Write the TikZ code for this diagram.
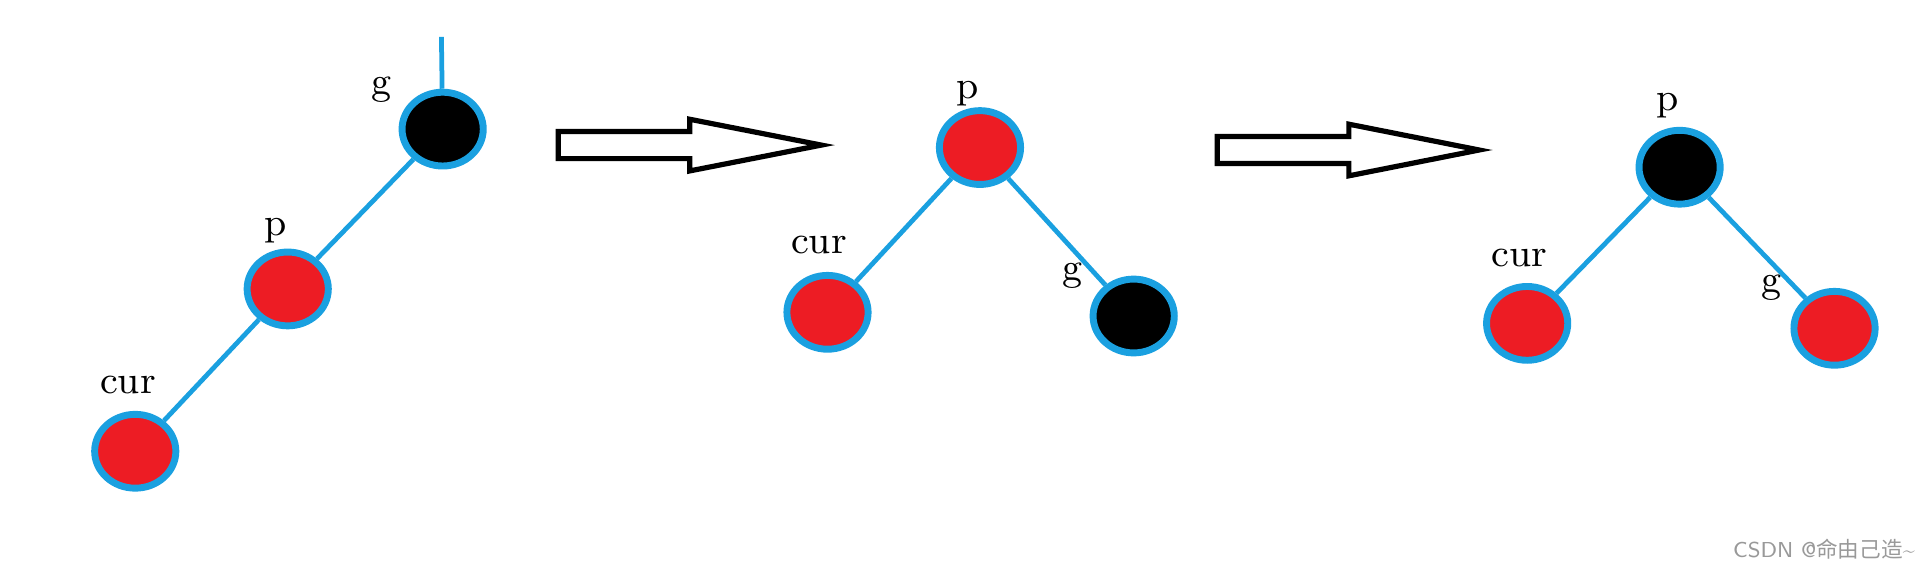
\documentclass[tikz,border=0pt]{standalone}
\usepackage{fontspec}
\newfontfamily\cjk{Noto Sans CJK SC}
\usetikzlibrary{shapes.geometric}
\definecolor{lblue}{HTML}{1AA0E0}
\definecolor{rbred}{HTML}{ED1C24}
\begin{document}
\begin{tikzpicture}[x=0.01cm,y=-0.01cm,
 nd/.style={ellipse,draw=lblue,line width=1.6pt,minimum width=0.66cm,minimum height=0.6cm,inner sep=0pt},
 rn/.style={nd,fill=rbred},
 bn/.style={nd,fill=black},
 ed/.style={draw=lblue,line width=1.1pt},
 lb/.style={font=\fontsize{9}{10}\selectfont,inner sep=0pt},
 ar/.style={draw=black,line width=1.2pt,fill=white}]
\useasboundingbox (0,0) rectangle (1568,464);
% tree 1
\node[bn] (g1) at (360,105) {};
\node[rn] (p1) at (234,235) {};
\node[rn] (c1) at (110,367) {};
\coordinate (t1) at (359,30);
\draw[ed] (g1) -- (t1);
\draw[ed] (g1) -- (p1);
\draw[ed] (p1) -- (c1);
\node[lb] (lg1) at (310,73) {g};
\node[lb] (lp1) at (224,188) {p};
\node[lb] (lc1) at (104,313) {cur};
% arrow 1
\draw[ar] (454,107) -- (561,107) -- (561,97) -- (668,118) -- (561,139) -- (561,129) -- (454,129) -- cycle;
% tree 2
\node[rn] (p2) at (797,120) {};
\node[rn] (c2) at (673,254) {};
\node[bn] (g2) at (922,257) {};
\draw[ed] (p2) -- (c2);
\draw[ed] (p2) -- (g2);
\node[lb] (lp2) at (787,76) {p};
\node[lb] (lc2) at (666,199) {cur};
\node[lb] (lg2) at (872,224) {g};
% arrow 2
\draw[ar] (990,111) -- (1097,111) -- (1097,101) -- (1203,122) -- (1097,143) -- (1097,133) -- (990,133) -- cycle;
% tree 3
\node[bn] (p3) at (1366,136) {};
\node[rn] (c3) at (1242,263) {};
\node[rn] (g3) at (1492,267) {};
\draw[ed] (p3) -- (c3);
\draw[ed] (p3) -- (g3);
\node[lb] (lp3) at (1356,86) {p};
\node[lb] (lc3) at (1236,210) {cur};
\node[lb] (lg3) at (1441,234) {g};
\node[font=\fontsize{5}{6}\selectfont\sffamily,text=gray!80,inner sep=0pt,anchor=east] (wm) at (1558,447) {CSDN @{\cjk 命由己造}\textasciitilde};
\end{tikzpicture}
\end{document}
